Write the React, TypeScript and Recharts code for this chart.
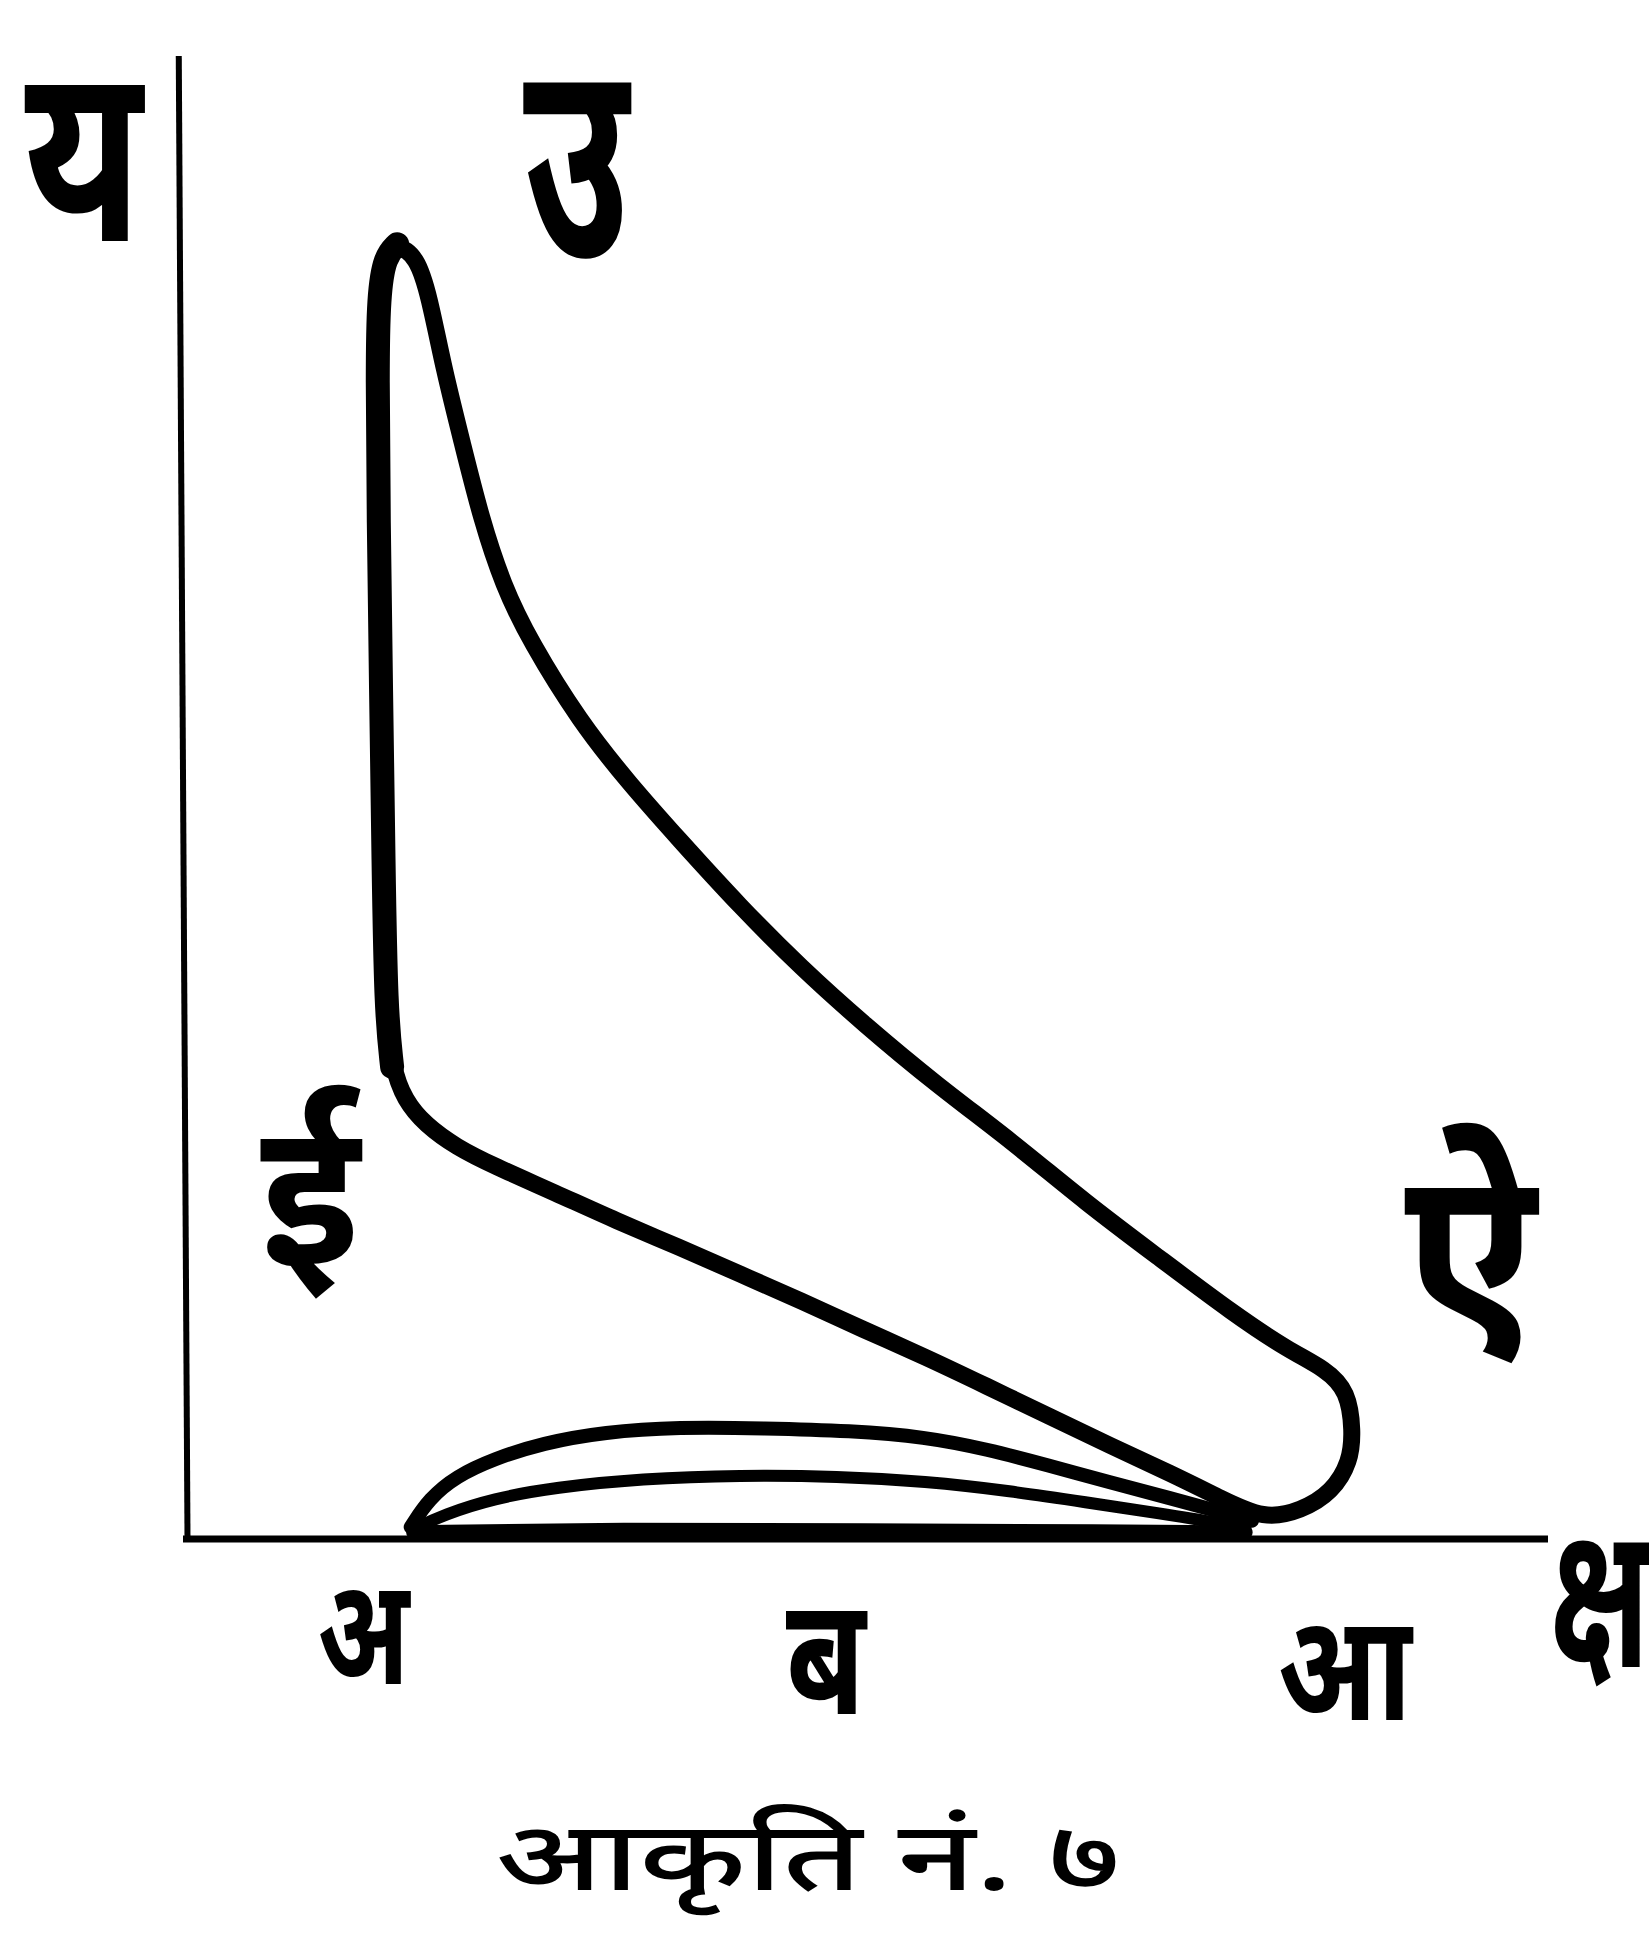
import React from 'react';
import { ScatterChart, Scatter, XAxis, YAxis, ReferenceDot, ReferenceLine, Curve } from 'recharts';

// Closed indicator loop, traced clockwise from the top corner
const mainLoop = [
  { x: 15.69, y: 87.31 }, { x: 17.13, y: 86.48 }, { x: 18.04, y: 83.82 }, { x: 19.12, y: 78.83 },
  { x: 20.48, y: 73.84 }, { x: 21.83, y: 68.85 }, { x: 23.46, y: 64.27 }, { x: 25.44, y: 60.53 },
  { x: 29.06, y: 55.13 }, { x: 32.67, y: 50.97 }, { x: 36.29, y: 47.22 }, { x: 40.81, y: 42.65 },
  { x: 45.32, y: 38.49 }, { x: 49.84, y: 34.75 }, { x: 55.26, y: 30.59 }, { x: 60.69, y: 26.85 },
  { x: 66.11, y: 22.69 }, { x: 71.53, y: 18.95 }, { x: 76.95, y: 15.2 }, { x: 81.02, y: 12.71 },
  { x: 83.73, y: 11.46 }, { x: 85.35, y: 9.96 }, { x: 85.71, y: 7.3 }, { x: 85.53, y: 5.22 },
  { x: 84.18, y: 3.14 }, { x: 81.92, y: 1.9 }, { x: 79.21, y: 1.32 },
  { x: 76.05, y: 2.73 }, { x: 72.43, y: 4.39 }, { x: 67.91, y: 6.3 }, { x: 63.4, y: 8.3 },
  { x: 58.88, y: 10.3 }, { x: 54.36, y: 12.29 }, { x: 49.84, y: 14.12 }, { x: 45.32, y: 16.04 },
  { x: 40.81, y: 17.87 }, { x: 36.29, y: 19.7 }, { x: 31.77, y: 21.44 }, { x: 27.25, y: 23.35 },
  { x: 22.73, y: 25.18 }, { x: 20.02, y: 26.43 }, { x: 17.76, y: 27.93 }, { x: 16.23, y: 29.59 },
  { x: 15.32, y: 31.84 }, { x: 14.87, y: 35.58 }, { x: 14.69, y: 45.56 }, { x: 14.51, y: 57.2 },
  { x: 14.33, y: 68.85 }, { x: 14.24, y: 78.83 }, { x: 14.33, y: 83.82 }, { x: 14.78, y: 86.48 },
];

// Heavier stroke along the left (admission) side of the loop
const leftEdge = [
  { x: 15.32, y: 31.84 }, { x: 14.87, y: 35.58 }, { x: 14.69, y: 45.56 }, { x: 14.51, y: 57.2 },
  { x: 14.33, y: 68.85 }, { x: 14.24, y: 78.83 }, { x: 14.33, y: 83.82 }, { x: 14.78, y: 86.48 },
  { x: 15.69, y: 87.31 },
];

// Small loop near the base: upper arc
const upperArc = [
  { x: 16.68, y: 0.81 }, { x: 18.04, y: 2.73 }, { x: 20.02, y: 4.23 }, { x: 22.73, y: 5.39 },
  { x: 26.35, y: 6.47 }, { x: 30.87, y: 7.22 }, { x: 36.29, y: 7.55 }, { x: 42.61, y: 7.47 },
  { x: 48.94, y: 7.3 }, { x: 54.36, y: 6.89 }, { x: 58.88, y: 6.06 }, { x: 63.4, y: 4.97 },
  { x: 67.91, y: 3.81 }, { x: 72.43, y: 2.73 }, { x: 76.05, y: 1.81 }, { x: 78.31, y: 1.23 },
];

// Small loop near the base: middle arc
const middleArc = [
  { x: 16.86, y: 0.65 }, { x: 19.12, y: 1.65 }, { x: 22.73, y: 2.73 }, { x: 27.25, y: 3.48 },
  { x: 33.58, y: 4.06 }, { x: 40.81, y: 4.31 }, { x: 48.03, y: 4.23 }, { x: 54.36, y: 3.89 },
  { x: 60.69, y: 3.23 }, { x: 66.11, y: 2.48 }, { x: 71.53, y: 1.73 }, { x: 76.05, y: 1.07 },
  { x: 77.85, y: 0.65 },
];

// Return line running just above the base line
const baseReturn = [
  { x: 16.86, y: 0.45 }, { x: 31.77, y: 0.67 }, { x: 49.84, y: 0.6 }, { x: 67.91, y: 0.52 },
  { x: 77.85, y: 0.45 },
];

// Vertical (pressure) axis drawn as a free segment
const yAxisSegment = [{ x: 0.33, y: 0 }, { x: -0.31, y: 100 }];

// Letters under the horizontal axis
const xTickValues = [13.2, 47.1, 85.1];
const xTickLabels = ['अ', 'ब', 'आ'];

// Letters placed on the diagram
const pointLabels = [
  { x: -7.3, y: 91.6, text: 'य' },
  { x: 28.79, y: 91.0, text: 'उ' },
  { x: 9.3, y: 21.8, text: 'ई' },
  { x: 94.3, y: 17.6, text: 'ऐ' },
  { x: 103.79, y: -5.34, text: 'क्ष' },
];

const caption = { x: 45.78, y: -22.1, text: 'आकृति नं. ७' };

const FONT = "'Noto Sans Devanagari', 'Lohit Devanagari', 'Noto Serif Devanagari', FreeSerif, 'Noto Sans', sans-serif";

// Per-letter typesetting: font size, horizontal / vertical stretch, extra vertical shift
const LETTER_STYLE: Record<string, { size: number; sx: number; sy: number; dy: number }> = {
  'य': { size: 250, sx: 0.74, sy: 1, dy: 0 },
  'उ': { size: 240, sx: 0.75, sy: 1.18, dy: 0 },
  'ई': { size: 200, sx: 0.95, sy: 1, dy: 0 },
  'ऐ': { size: 240, sx: 0.9, sy: 1, dy: 0 },
  'क्ष': { size: 200, sx: 0.62, sy: 1, dy: 0 },
  'अ': { size: 150, sx: 0.72, sy: 1, dy: 100 },
  'ब': { size: 165, sx: 0.78, sy: 1, dy: 126 },
  'आ': { size: 150, sx: 0.78, sy: 1, dy: 136 },
};

const Letter = ({ x, y, text, size, sx, sy }: any) => (
  <g transform={`translate(${x},${y}) scale(${sx},${sy})`}>
    <text x={0} y={0} textAnchor="middle" dominantBaseline="central"
      fontFamily={FONT} fontWeight={700} fontSize={size} fill="#000">
      {text}
    </text>
  </g>
);

const NoMarker = () => <g />;

// Ink stroke for a traced curve
const inkLine = (width: number, type: 'basis' | 'basisClosed') => (props: any) => (
  <Curve points={props.points} type={type} stroke="#000" strokeWidth={width} fill="none"
    strokeLinejoin="round" strokeLinecap="round" />
);

const AxisLetter = (props: any) => {
  const { x, y, payload } = props;
  const label = xTickLabels[xTickValues.indexOf(payload.value)];
  const s = LETTER_STYLE[label];
  return <Letter x={x} y={y + s.dy} text={label} size={s.size} sx={s.sx} sy={s.sy} />;
};

const letterShape = (text: string) => (props: any) => {
  const s = LETTER_STYLE[text];
  return <Letter x={props.cx} y={props.cy + s.dy} text={text} size={s.size} sx={s.sx} sy={s.sy} />;
};

const captionShape = (props: any) => (
  <text x={props.cx} y={props.cy} textAnchor="middle" dominantBaseline="central"
    fontFamily={FONT} fontWeight={500} fontSize={96} fill="#000"
    textLength={625} lengthAdjust="spacingAndGlyphs">
    {caption.text}
  </text>
);

export default function App() {
  return (
    <div style={{ position: 'absolute', left: 0, top: 0, width: 1649, height: 1934, background: '#fff' }}>
      <ScatterChart width={1649} height={1934} margin={{ top: 56, right: 101, bottom: 295, left: 183 }}>
        <XAxis type="number" dataKey="x" domain={[0, 100]} allowDataOverflow ticks={xTickValues}
          interval={0} height={100} tickLine={false} tick={<AxisLetter />}
          axisLine={{ stroke: '#000', strokeWidth: 7 }} />
        <YAxis type="number" dataKey="y" domain={[0, 100]} allowDataOverflow hide />
        <ReferenceLine segment={yAxisSegment} stroke="#000" strokeWidth={6} ifOverflow="visible" />
        <Scatter data={mainLoop} shape={NoMarker} isAnimationActive={false} line={inkLine(17, 'basisClosed')} />
        <Scatter data={leftEdge} shape={NoMarker} isAnimationActive={false} line={inkLine(24, 'basis')} />
        <Scatter data={upperArc} shape={NoMarker} isAnimationActive={false} line={inkLine(14, 'basis')} />
        <Scatter data={middleArc} shape={NoMarker} isAnimationActive={false} line={inkLine(12, 'basis')} />
        <Scatter data={baseReturn} shape={NoMarker} isAnimationActive={false} line={inkLine(14, 'basis')} />
        {pointLabels.map((p) => (
          <ReferenceDot key={p.text} x={p.x} y={p.y} r={0} ifOverflow="visible"
            shape={letterShape(p.text)} />
        ))}
        <ReferenceDot x={caption.x} y={caption.y} r={0} ifOverflow="visible" shape={captionShape} />
      </ScatterChart>
    </div>
  );
}
